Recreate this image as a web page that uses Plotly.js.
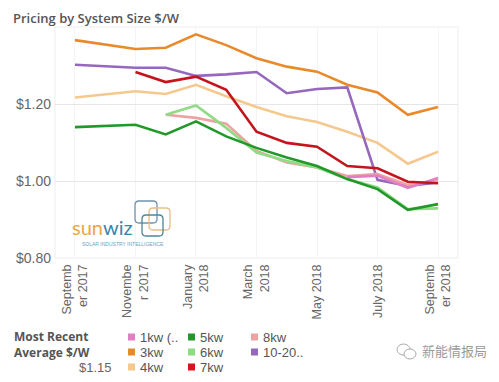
<!DOCTYPE html>
<html>
<head>
<meta charset="utf-8">
<script src="https://cdn.plot.ly/plotly-3.0.1.min.js"></script>
<style>html,body{margin:0;padding:0;background:#fff;}#chart{width:499px;height:382px;}</style>
</head>
<body>
<div id="chart"></div>
<script>
// ---- data ----
var months = ['2017-09','2017-10','2017-11','2017-12','2018-01','2018-02','2018-03','2018-04','2018-05','2018-06','2018-07','2018-08','2018-09'];
var tickMonths = ['2017-09','2017-11','2018-01','2018-03','2018-05','2018-07','2018-09'];
var tickLabels = ['Septemb<br>er 2017','Novembe<br>r 2017','January<br>2018','March<br>2018','May 2018','July 2018','Septemb<br>er 2018'];

var kw1    = [null,null,null,null,null,null,null,null,null,1.010,1.014,0.982,1.008];
var kw3    = [1.366,null,1.343,1.346,1.381,1.353,1.319,1.297,1.284,1.250,1.230,1.172,1.192];
var kw4    = [1.217,null,1.233,1.226,1.250,1.220,1.192,1.168,1.153,1.128,1.099,1.045,1.076];
var kw5    = [1.140,null,1.146,1.121,1.155,1.116,1.086,1.061,1.039,1.005,0.979,0.925,0.940];
var kw6    = [null,null,null,1.172,1.196,1.138,1.074,1.052,1.035,1.005,0.983,0.927,0.929];
var kw7    = [null,null,1.283,1.257,1.271,1.237,1.128,1.099,1.089,1.039,1.033,0.998,0.994];
var kw8    = [null,null,null,1.172,1.164,1.149,1.078,1.048,1.035,1.013,1.018,0.990,1.001];
var kw1020 = [1.302,null,1.294,1.294,1.273,1.277,1.283,1.228,1.239,1.243,1.003,0.987,0.996];

var seriesNames = ['1kw (..','3kw','4kw','5kw','6kw','7kw','8kw','10-20..'];
var seriesData  = [kw1, kw3, kw4, kw5, kw6, kw7, kw8, kw1020];
var lineColors  = ['#e27fc4','#e8892c','#f5c98e','#21992a','#8fdc84','#c4141d','#eda3a2','#9568bd'];
var swatchColors= ['#e27fc4','#e8892c','#f5c98e','#21992a','#8fdc84','#d1161f','#eda3a2','#9568bd'];
var drawOrder   = [2,1,7,6,0,4,3,5];
var avgLabel = '$1.15';

// ---- layout helpers (pixel -> paper) ----
var L = 55, R = 458, T = 27, B = 258;
function px(x){ return (x - L) / (R - L); }
function py(y){ return (B - y) / (B - T); }

var traces = drawOrder.map(function(i){
  return {
    type:'scatter', mode:'lines', name: seriesNames[i],
    x: months, y: seriesData[i], connectgaps:true,
    line:{color: lineColors[i], width:2.6},
    showlegend:false, hoverinfo:'skip'
  };
});

var annotations = [];
var shapes = [];

// plot border (faint)
shapes.push({type:'rect', xref:'paper', yref:'paper', x0:0, x1:1, y0:0, y1:1, line:{color:'#ededed', width:1}, layer:'below'});

// custom legend
annotations.push({xref:'paper', yref:'paper', x:px(12), y:py(344), xanchor:'left', yanchor:'middle', showarrow:false, align:'left',
  text:'<b>Most Recent<br>Average $/W</b>', font:{family:'Open Sans, sans-serif', size:12, color:'#555'}});
annotations.push({xref:'paper', yref:'paper', x:px(114), y:py(367), xanchor:'right', yanchor:'middle', showarrow:false,
  text:avgLabel, font:{family:'Liberation Sans, Arial, sans-serif', size:13, color:'#666'}});

var colX = [128, 188, 251];
var rowY = [337, 352, 367];
seriesNames.forEach(function(name, i){
  var c = Math.floor(i / 3), r = i % 3;
  var sx = colX[c], sy = rowY[r];
  shapes.push({type:'rect', xref:'paper', yref:'paper', x0:px(sx), x1:px(sx+7), y0:py(sy+3.5), y1:py(sy-3.5),
    fillcolor: swatchColors[i], line:{width:0}});
  annotations.push({xref:'paper', yref:'paper', x:px(sx+10), y:py(sy), xanchor:'left', yanchor:'middle', showarrow:false,
    text:name, font:{family:'Liberation Sans, Arial, sans-serif', size:13, color:'#555'}});
});

// watermark
annotations.push({xref:'paper', yref:'paper', x:px(420), y:py(350), xanchor:'left', yanchor:'middle', showarrow:false,
  text:'新能情报局', font:{family:'Noto Sans CJK SC, sans-serif', size:13, color:'#9a9a9a'}});
shapes.push({type:'circle', xref:'paper', yref:'paper', x0:px(397), x1:px(410), y0:py(355), y1:py(344), line:{color:'#aaa', width:1}});
shapes.push({type:'circle', xref:'paper', yref:'paper', x0:px(404), x1:px(416), y0:py(359), y1:py(349), line:{color:'#aaa', width:1}, fillcolor:'#fff'});

// sunwiz logo
function rr(x0,y0,x1,y1,r){
  return 'M'+px(x0+r)+','+py(y0)+' L'+px(x1-r)+','+py(y0)+' Q'+px(x1)+','+py(y0)+' '+px(x1)+','+py(y0+r)+
    ' L'+px(x1)+','+py(y1-r)+' Q'+px(x1)+','+py(y1)+' '+px(x1-r)+','+py(y1)+
    ' L'+px(x0+r)+','+py(y1)+' Q'+px(x0)+','+py(y1)+' '+px(x0)+','+py(y1-r)+
    ' L'+px(x0)+','+py(y0+r)+' Q'+px(x0)+','+py(y0)+' '+px(x0+r)+','+py(y0)+' Z';
}
shapes.push({type:'path', xref:'paper', yref:'paper', path:rr(135,201,157,223,4), line:{color:'#6f94ad', width:1.3}});
shapes.push({type:'path', xref:'paper', yref:'paper', path:rr(149,208,170,230,4), line:{color:'#e8bd86', width:1.3}});
shapes.push({type:'path', xref:'paper', yref:'paper', path:rr(142,215,163,236,4), line:{color:'#4f8596', width:1.3}});
annotations.push({xref:'paper', yref:'paper', x:px(70), y:py(227), xanchor:'left', yanchor:'middle', showarrow:false,
  text:'<span style="color:#eaa73f">sun</span><span style="color:#3a86a8">wiz</span>',
  font:{family:'Lato, sans-serif', size:20, color:'#3a86a8'}});
annotations.push({xref:'paper', yref:'paper', x:px(80), y:py(244), xanchor:'left', yanchor:'middle', showarrow:false,
  text:'SOLAR INDUSTRY INTELLIGENCE', font:{family:'Liberation Sans, sans-serif', size:5, color:'#6aa3c4'}});

var layout = {
  width:499, height:382,
  margin:{l:L, r:499-R, t:T, b:382-B, pad:0},
  paper_bgcolor:'#ffffff', plot_bgcolor:'#ffffff',
  title:{text:'Pricing by System Size $/W', x:13/499, xref:'container', xanchor:'left', y:1-18/382, yref:'container', yanchor:'middle',
    font:{family:'Open Sans, sans-serif', size:13, color:'#555', weight:600}},
  xaxis:{type:'category', categoryorder:'array', categoryarray:months,
    range:[-0.66, 12.66], tickmode:'array', tickvals:tickMonths, ticktext:tickLabels,
    tickangle:-90, ticklabelstandoff:3, showgrid:true, gridcolor:'#f4f4f4', gridwidth:1,
    showline:false, zeroline:false, ticks:'',
    tickfont:{family:'Liberation Sans, Arial, sans-serif', size:12.5, color:'#666'}},
  yaxis:{range:[0.80, 1.40], tickvals:[0.8,1.0,1.2], tickformat:'$.2f',
    showgrid:true, gridcolor:'#e6e6e6', gridwidth:1, zeroline:false, showline:false, ticks:'',
    ticklabelstandoff:3,
    tickfont:{family:'Liberation Sans, Arial, sans-serif', size:14, color:'#666'}},
  showlegend:false,
  annotations:annotations,
  shapes:shapes
};

Plotly.newPlot('chart', traces, layout, {displayModeBar:false, staticPlot:true});
</script>
</body>
</html>
